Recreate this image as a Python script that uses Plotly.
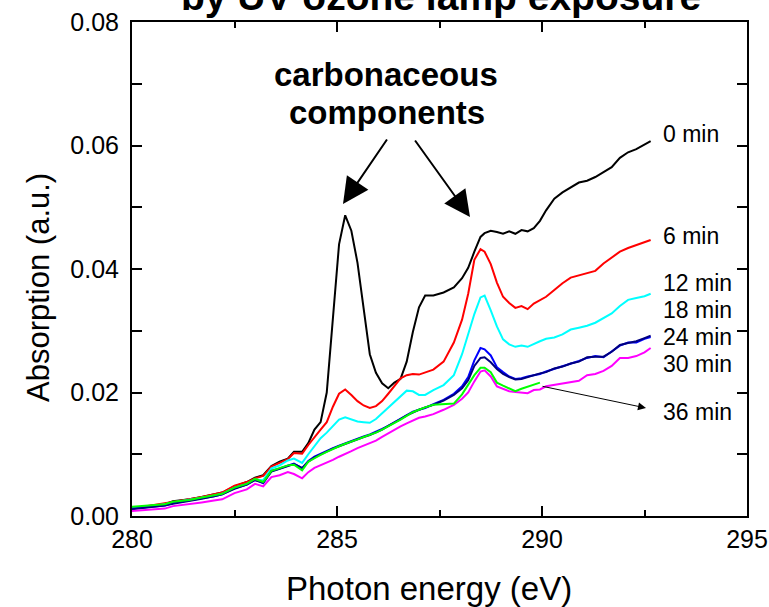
import plotly.graph_objects as go

# ---------------- data ----------------
energy = [280.0, 280.4, 280.8, 281.0, 281.4, 281.7, 282.0, 282.2, 282.5, 282.8,
          283.0, 283.2, 283.4, 283.6, 283.8, 283.95, 284.15, 284.3, 284.45, 284.6,
          284.75, 284.9, 285.05, 285.2, 285.35, 285.5, 285.65, 285.8, 285.95, 286.1,
          286.25, 286.4, 286.55, 286.7, 286.85, 287.0, 287.15, 287.35, 287.6, 287.85,
          288.05, 288.2, 288.35, 288.5, 288.6, 288.75, 288.9, 289.05, 289.2, 289.35,
          289.5, 289.65, 289.8, 289.95, 290.1, 290.3, 290.5, 290.7, 290.9, 291.1,
          291.3, 291.5, 291.7, 291.9, 292.1, 292.3, 292.5, 292.65]

abs_0min = [0.0013, 0.0016, 0.0019, 0.0024, 0.0027, 0.0031, 0.0035, 0.0038, 0.0048, 0.0055,
            0.0062, 0.0066, 0.0081, 0.0088, 0.0093, 0.0104, 0.0104, 0.0118, 0.0140, 0.0152,
            0.0200, 0.0320, 0.0440, 0.0487, 0.0462, 0.0410, 0.0340, 0.0262, 0.0232, 0.0215,
            0.0207, 0.0216, 0.0222, 0.0250, 0.0298, 0.0338, 0.0357, 0.0357, 0.0362, 0.0370,
            0.0385, 0.0402, 0.0428, 0.0452, 0.0458, 0.0462, 0.0460, 0.0457, 0.0461, 0.0457,
            0.0463, 0.0461, 0.0466, 0.0478, 0.0495, 0.0514, 0.0524, 0.0532, 0.0540, 0.0543,
            0.0549, 0.0557, 0.0565, 0.0580, 0.0589, 0.0594, 0.0601, 0.0607]

abs_6min = [0.0012, 0.0016, 0.0021, 0.0023, 0.0027, 0.0031, 0.0035, 0.0038, 0.0049, 0.0055,
            0.0061, 0.0065, 0.0080, 0.0086, 0.0092, 0.0102, 0.0101, 0.0115, 0.0128, 0.0140,
            0.0152, 0.0177, 0.0198, 0.0205, 0.0196, 0.0186, 0.0179, 0.0175, 0.0178, 0.0186,
            0.0198, 0.0210, 0.0223, 0.0228, 0.0230, 0.0229, 0.0232, 0.0237, 0.0250, 0.0281,
            0.0318, 0.0360, 0.0415, 0.0432, 0.0428, 0.0408, 0.0378, 0.0355, 0.0345, 0.0337,
            0.0340, 0.0335, 0.0344, 0.0349, 0.0355, 0.0366, 0.0377, 0.0386, 0.0390, 0.0394,
            0.0397, 0.0409, 0.0418, 0.0428, 0.0434, 0.0439, 0.0443, 0.0447]

abs_12min = [0.0012, 0.0015, 0.0019, 0.0022, 0.0026, 0.0030, 0.0033, 0.0036, 0.0046, 0.0052,
             0.0059, 0.0058, 0.0077, 0.0082, 0.0090, 0.0093, 0.0086, 0.0100, 0.0113, 0.0126,
             0.0135, 0.0145, 0.0156, 0.0160, 0.0156, 0.0153, 0.0152, 0.0151, 0.0157, 0.0166,
             0.0175, 0.0184, 0.0194, 0.0203, 0.0202, 0.0196, 0.0196, 0.0204, 0.0212, 0.0228,
             0.0262, 0.0295, 0.0327, 0.0354, 0.0357, 0.0333, 0.0307, 0.0286, 0.0278, 0.0274,
             0.0276, 0.0274, 0.0279, 0.0283, 0.0287, 0.0289, 0.0294, 0.0302, 0.0305, 0.0308,
             0.0313, 0.0320, 0.0328, 0.0340, 0.0350, 0.0353, 0.0356, 0.0360]

abs_18min = [0.0012, 0.0014, 0.0017, 0.0021, 0.0025, 0.0029, 0.0032, 0.0035, 0.0045, 0.0051,
             0.0059, 0.0053, 0.0073, 0.0077, 0.0082, 0.0085, 0.0077, 0.0089, 0.0096, 0.0101,
             0.0106, 0.0110, 0.0114, 0.0118, 0.0122, 0.0125, 0.0129, 0.0132, 0.0136, 0.0141,
             0.0146, 0.0152, 0.0158, 0.0163, 0.0169, 0.0172, 0.0175, 0.0181, 0.0188, 0.0198,
             0.0210, 0.0225, 0.0252, 0.0272, 0.0270, 0.0260, 0.0241, 0.0233, 0.0226, 0.0222,
             0.0223, 0.0226, 0.0228, 0.0230, 0.0234, 0.0238, 0.0243, 0.0246, 0.0251, 0.0256,
             0.0259, 0.0257, 0.0267, 0.0276, 0.0281, 0.0281, 0.0287, 0.0290]

abs_24min = [0.0011, 0.0014, 0.0017, 0.0020, 0.0024, 0.0028, 0.0032, 0.0035, 0.0044, 0.0051,
             0.0058, 0.0054, 0.0072, 0.0076, 0.0081, 0.0084, 0.0078, 0.0088, 0.0095, 0.0100,
             0.0105, 0.0109, 0.0113, 0.0117, 0.0121, 0.0124, 0.0128, 0.0131, 0.0135, 0.0140,
             0.0146, 0.0151, 0.0157, 0.0163, 0.0168, 0.0172, 0.0176, 0.0180, 0.0187, 0.0196,
             0.0207, 0.0220, 0.0243, 0.0256, 0.0257, 0.0249, 0.0238, 0.0230, 0.0225, 0.0221,
             0.0222, 0.0225, 0.0229, 0.0231, 0.0233, 0.0239, 0.0242, 0.0247, 0.0250, 0.0257,
             0.0258, 0.0258, 0.0266, 0.0277, 0.0280, 0.0283, 0.0288, 0.0292]

abs_30min = [0.0008, 0.0010, 0.0012, 0.0016, 0.0019, 0.0022, 0.0025, 0.0027, 0.0037, 0.0043,
             0.0052, 0.0048, 0.0063, 0.0066, 0.0071, 0.0068, 0.0061, 0.0071, 0.0078, 0.0082,
             0.0087, 0.0091, 0.0096, 0.0100, 0.0105, 0.0110, 0.0114, 0.0118, 0.0122, 0.0128,
             0.0134, 0.0140, 0.0145, 0.0150, 0.0155, 0.0159, 0.0161, 0.0165, 0.0172, 0.0180,
             0.0190, 0.0200, 0.0218, 0.0234, 0.0236, 0.0226, 0.0210, 0.0206, 0.0202, 0.0201,
             0.0200, 0.0199, 0.0204, 0.0205, 0.0210, 0.0212, 0.0214, 0.0216, 0.0219, 0.0228,
             0.0230, 0.0235, 0.0243, 0.0256, 0.0256, 0.0259, 0.0265, 0.0272]

abs_36min = [0.0015, 0.0017, 0.0019, 0.0023, 0.0026, 0.0030, 0.0033, 0.0036, 0.0046, 0.0052,
             0.0060, 0.0055, 0.0073, 0.0077, 0.0082, 0.0083, 0.0074, 0.0088, 0.0094, 0.0099,
             0.0104, 0.0109, 0.0113, 0.0117, 0.0120, 0.0124, 0.0128, 0.0131, 0.0135, 0.0140,
             0.0145, 0.0150, 0.0156, 0.0162, 0.0168, 0.0172, 0.0176, 0.0180, 0.0181, 0.0182,
             0.0197, 0.0212, 0.0228, 0.0240, 0.0240, 0.0233, 0.0216, 0.0211, 0.0207, 0.0202,
             0.0206, 0.0209, 0.0213, 0.0216, None, None, None, None, None, None,
             None, None, None, None, None, None, None, None]

series_names = ["0 min", "6 min", "12 min", "18 min", "24 min", "30 min", "36 min"]
series_values = [abs_0min, abs_6min, abs_12min, abs_18min, abs_24min, abs_30min, abs_36min]
series_colors = ["#000000", "#FF0000", "#00FFFF", "#0000FF", "#000080", "#FF00FF", "#00FF00"]

x_tick_vals = [280, 285, 290, 295]
y_tick_vals = [0.00, 0.02, 0.04, 0.06, 0.08]

# ---------------- figure ----------------
W, H = 769, 607
L, R, T, B = 132, 747, 22, 516
FONT = "Liberation Sans, Arial, Helvetica, sans-serif"


def px(x):
    return (x - L) / (R - L)


def py(y):
    return (B - y) / (B - T)


fig = go.Figure()
for name, vals, col in zip(series_names, series_values, series_colors):
    fig.add_trace(go.Scatter(x=energy, y=vals, mode="lines", name=name,
                             line=dict(color=col, width=2), connectgaps=False))

axis_common = dict(showline=True, linecolor="black", linewidth=2, mirror="ticks",
                   ticks="inside", tickcolor="black", tickwidth=2, ticklen=10,
                   showgrid=False, zeroline=False,
                   tickfont=dict(family=FONT, size=25, color="black"))

fig.update_xaxes(range=[280, 295], tickvals=x_tick_vals,
                 ticklabelstandoff=0,
                 minor=dict(dtick=2.5, ticks="inside", ticklen=6, tickwidth=2,
                            tickcolor="black", showgrid=False),
                 **axis_common)
fig.update_yaxes(range=[0, 0.08], tickvals=y_tick_vals, tickformat=".2f",
                 ticklabelstandoff=6,
                 minor=dict(dtick=0.01, ticks="inside", ticklen=10, tickwidth=2,
                            tickcolor="black", showgrid=False),
                 **axis_common)

ann = []
# title (partly cut off at top of the page)
ann.append(dict(text="<b>by UV ozone lamp exposure</b>", xref="paper", yref="paper",
                x=px(441), y=py(-3), xanchor="center", yanchor="middle",
                showarrow=False, font=dict(family=FONT, size=39, color="black")))
# axis titles
ann.append(dict(text="Photon energy (eV)", xref="paper", yref="paper",
                x=px(429), y=py(588), xanchor="center", yanchor="middle",
                showarrow=False, font=dict(family=FONT, size=33, color="black")))
ann.append(dict(text="Absorption (a.u.)", xref="paper", yref="paper",
                x=px(38), y=py(288), xanchor="center", yanchor="middle", textangle=-90,
                showarrow=False, font=dict(family=FONT, size=31, color="black")))
# carbonaceous components
ann.append(dict(text="<b>carbonaceous</b>", xref="paper", yref="paper",
                x=px(386), y=py(75), xanchor="center", yanchor="middle",
                showarrow=False, font=dict(family=FONT, size=33, color="black")))
ann.append(dict(text="<b>components</b>", xref="paper", yref="paper",
                x=px(387), y=py(112), xanchor="center", yanchor="middle",
                showarrow=False, font=dict(family=FONT, size=33, color="black")))
ann.append(dict(text="", xref="paper", yref="paper", x=px(343), y=py(204),
                ax=45, ay=-66, showarrow=True, arrowhead=2, arrowsize=2.6,
                arrowwidth=2, arrowcolor="black", standoff=0))
ann.append(dict(text="", xref="paper", yref="paper", x=px(470), y=py(217),
                ax=-56, ay=-78, showarrow=True, arrowhead=2, arrowsize=2.6,
                arrowwidth=2, arrowcolor="black", standoff=0))
# curve labels
label_y = {"0 min": 134, "6 min": 236, "12 min": 283, "18 min": 310,
           "24 min": 337, "30 min": 364, "36 min": 412}
for name in series_names:
    ann.append(dict(text=name, xref="paper", yref="paper", x=px(661), y=py(label_y[name]),
                    xanchor="left", yanchor="middle", showarrow=False,
                    font=dict(family=FONT, size=23, color="black")))
ann.append(dict(text="", xref="paper", yref="paper", x=px(646), y=py(408),
                ax=-105, ay=-22, showarrow=True, arrowhead=2, arrowsize=1.6,
                arrowwidth=1, arrowcolor="black", standoff=0))

fig.update_layout(width=W, height=H,
                  margin=dict(l=L, r=W - R, t=T, b=H - B, autoexpand=False),
                  plot_bgcolor="white", paper_bgcolor="white", showlegend=False,
                  annotations=ann, font=dict(family=FONT, color="black"))

fig.write_html("out.html")
